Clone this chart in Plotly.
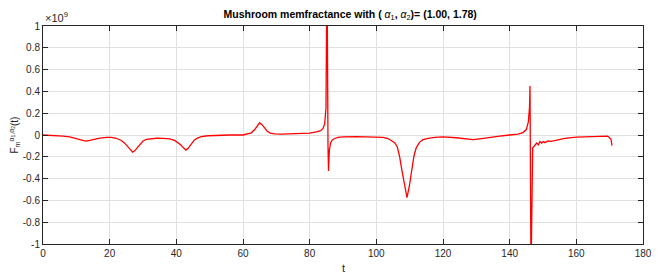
import plotly.graph_objects as go

# time axis samples (t) and memfractance values (units of 1e9)
t_vals = [0, 3, 6, 8, 10, 11.5, 12.8, 14, 15.5, 17, 19, 20.5, 22, 23.5, 24.5, 25.5, 26.3, 26.9,
          27.5, 28.3, 29.2, 30, 31, 32.5, 34, 36, 38, 39.5, 40.5, 41.3, 42.2, 42.9, 43.6, 44.4,
          45.3, 46.3, 47.5, 49.5, 52, 56, 60, 61.5, 62.5, 63.5, 64.3, 65, 65.7, 66.5, 67.3,
          68.2, 69.5, 71.5, 76, 80, 82, 83.3, 84, 84.5, 84.9, 85.2, 85.5, 85.65, 85.9, 86.3,
          86.8, 87.5, 88.5, 90, 94, 100, 102, 103.5, 104.5, 105.5, 106.3, 107, 107.7, 108.4,
          109.2, 109.9, 110.6, 111.3, 112, 113, 114, 115.5, 117.5, 120, 124, 127, 129, 131,
          134, 137, 140, 142.5, 144, 145, 145.6, 145.95, 146.1, 146.4, 146.9, 147.4, 148.1,
          148.6, 149.1, 149.6, 150.1, 150.6, 151.5, 152.5, 154, 156.5, 160, 165.4, 169.4,
          170.4, 170.7]
f_vals = [0.0, -0.004, -0.01, -0.018, -0.032, -0.046, -0.056, -0.05, -0.038, -0.028, -0.022,
          -0.022, -0.03, -0.05, -0.075, -0.112, -0.143, -0.157, -0.145, -0.115, -0.08, -0.055,
          -0.04, -0.032, -0.03, -0.031, -0.036, -0.05, -0.07, -0.09, -0.12, -0.138, -0.12,
          -0.085, -0.05, -0.028, -0.015, -0.007, -0.003, 0.0, 0.0, 0.008, 0.02, 0.05, 0.09,
          0.112, 0.095, 0.065, 0.035, 0.018, 0.01, 0.008, 0.012, 0.018, 0.028, 0.04, 0.06,
          0.1, 0.25, 1.6, -0.1, -0.33, -0.14, -0.07, -0.045, -0.032, -0.022, -0.017, -0.014,
          -0.015, -0.022, -0.032, -0.048, -0.07, -0.11, -0.2, -0.33, -0.46, -0.575, -0.47,
          -0.32, -0.19, -0.115, -0.065, -0.043, -0.03, -0.022, -0.018, -0.025, -0.038, -0.043,
          -0.035, -0.02, -0.01, 0.0, 0.008, 0.022, 0.05, 0.12, 0.25, 0.45, -1.3, -0.12, -0.10,
          -0.074, -0.09, -0.06, -0.074, -0.06, -0.07, -0.055, -0.058, -0.045, -0.03, -0.02,
          -0.014, -0.01, -0.04, -0.097]

x_ticks = [0, 20, 40, 60, 80, 100, 120, 140, 160, 180]
y_ticks = [-1, -0.8, -0.6, -0.4, -0.2, 0, 0.2, 0.4, 0.6, 0.8, 1]
y_tick_text = ["-1", "-0.8", "-0.6", "-0.4", "-0.2", "0", "0.2", "0.4", "0.6", "0.8", "1"]

FONT = "Liberation Sans, Arial, sans-serif"
AX = "#262626"
GRID = "#e0e0e0"

fig = go.Figure()
fig.add_trace(go.Scatter(x=t_vals, y=f_vals, mode="lines",
                         line=dict(color="#ff0000", width=1.3), showlegend=False))

axis_common = dict(showline=True, linecolor=AX, linewidth=1, mirror="ticks",
                   ticks="inside", ticklen=5, tickcolor=AX, showgrid=True,
                   gridcolor=GRID, gridwidth=1, zeroline=False,
                   tickfont=dict(family=FONT, size=10, color=AX))

# page body has an 8px margin, so the figure is shrunk by that amount
fig.update_layout(
    width=656, height=269,
    margin=dict(l=35, r=15, t=15, b=33),
    paper_bgcolor="white", plot_bgcolor="white",
    font=dict(family=FONT, color=AX),
    title=dict(
        text="<b>Mushroom memfractance with ( </b><i>α</i><sub>1</sub><b>, </b><i>α</i><sub>2</sub><b>)= (1.00, 1.78)</b>",
        x=0.512, xref="paper", xanchor="center",
        y=1, yref="paper", yanchor="bottom", pad=dict(b=8),
        font=dict(family=FONT, size=10.5, color="#000000")),
    xaxis=dict(range=[0, 180], tickvals=x_ticks, **axis_common),
    yaxis=dict(range=[-1, 1], tickvals=y_ticks, ticktext=y_tick_text, **axis_common),
)

fig.add_annotation(xref="paper", yref="paper", x=0, y=1, xanchor="left", yanchor="bottom",
                   yshift=0, showarrow=False, text="×10<sup>9</sup>",
                   font=dict(family=FONT, size=11, color=AX))
fig.add_annotation(xref="paper", yref="paper", x=0.5, y=0, xanchor="center", yanchor="top",
                   yshift=-16, showarrow=False, text="t",
                   font=dict(family=FONT, size=11, color=AX))
fig.add_annotation(xref="paper", yref="paper", x=0, y=0.5, xanchor="right", yanchor="middle",
                   xshift=-21, showarrow=False, textangle=-90,
                   text="F<sub>m</sub><sup>α<sub>1</sub>,α<sub>2</sub></sup>(t)",
                   font=dict(family=FONT, size=10, color=AX))

fig.write_html("out.html")
